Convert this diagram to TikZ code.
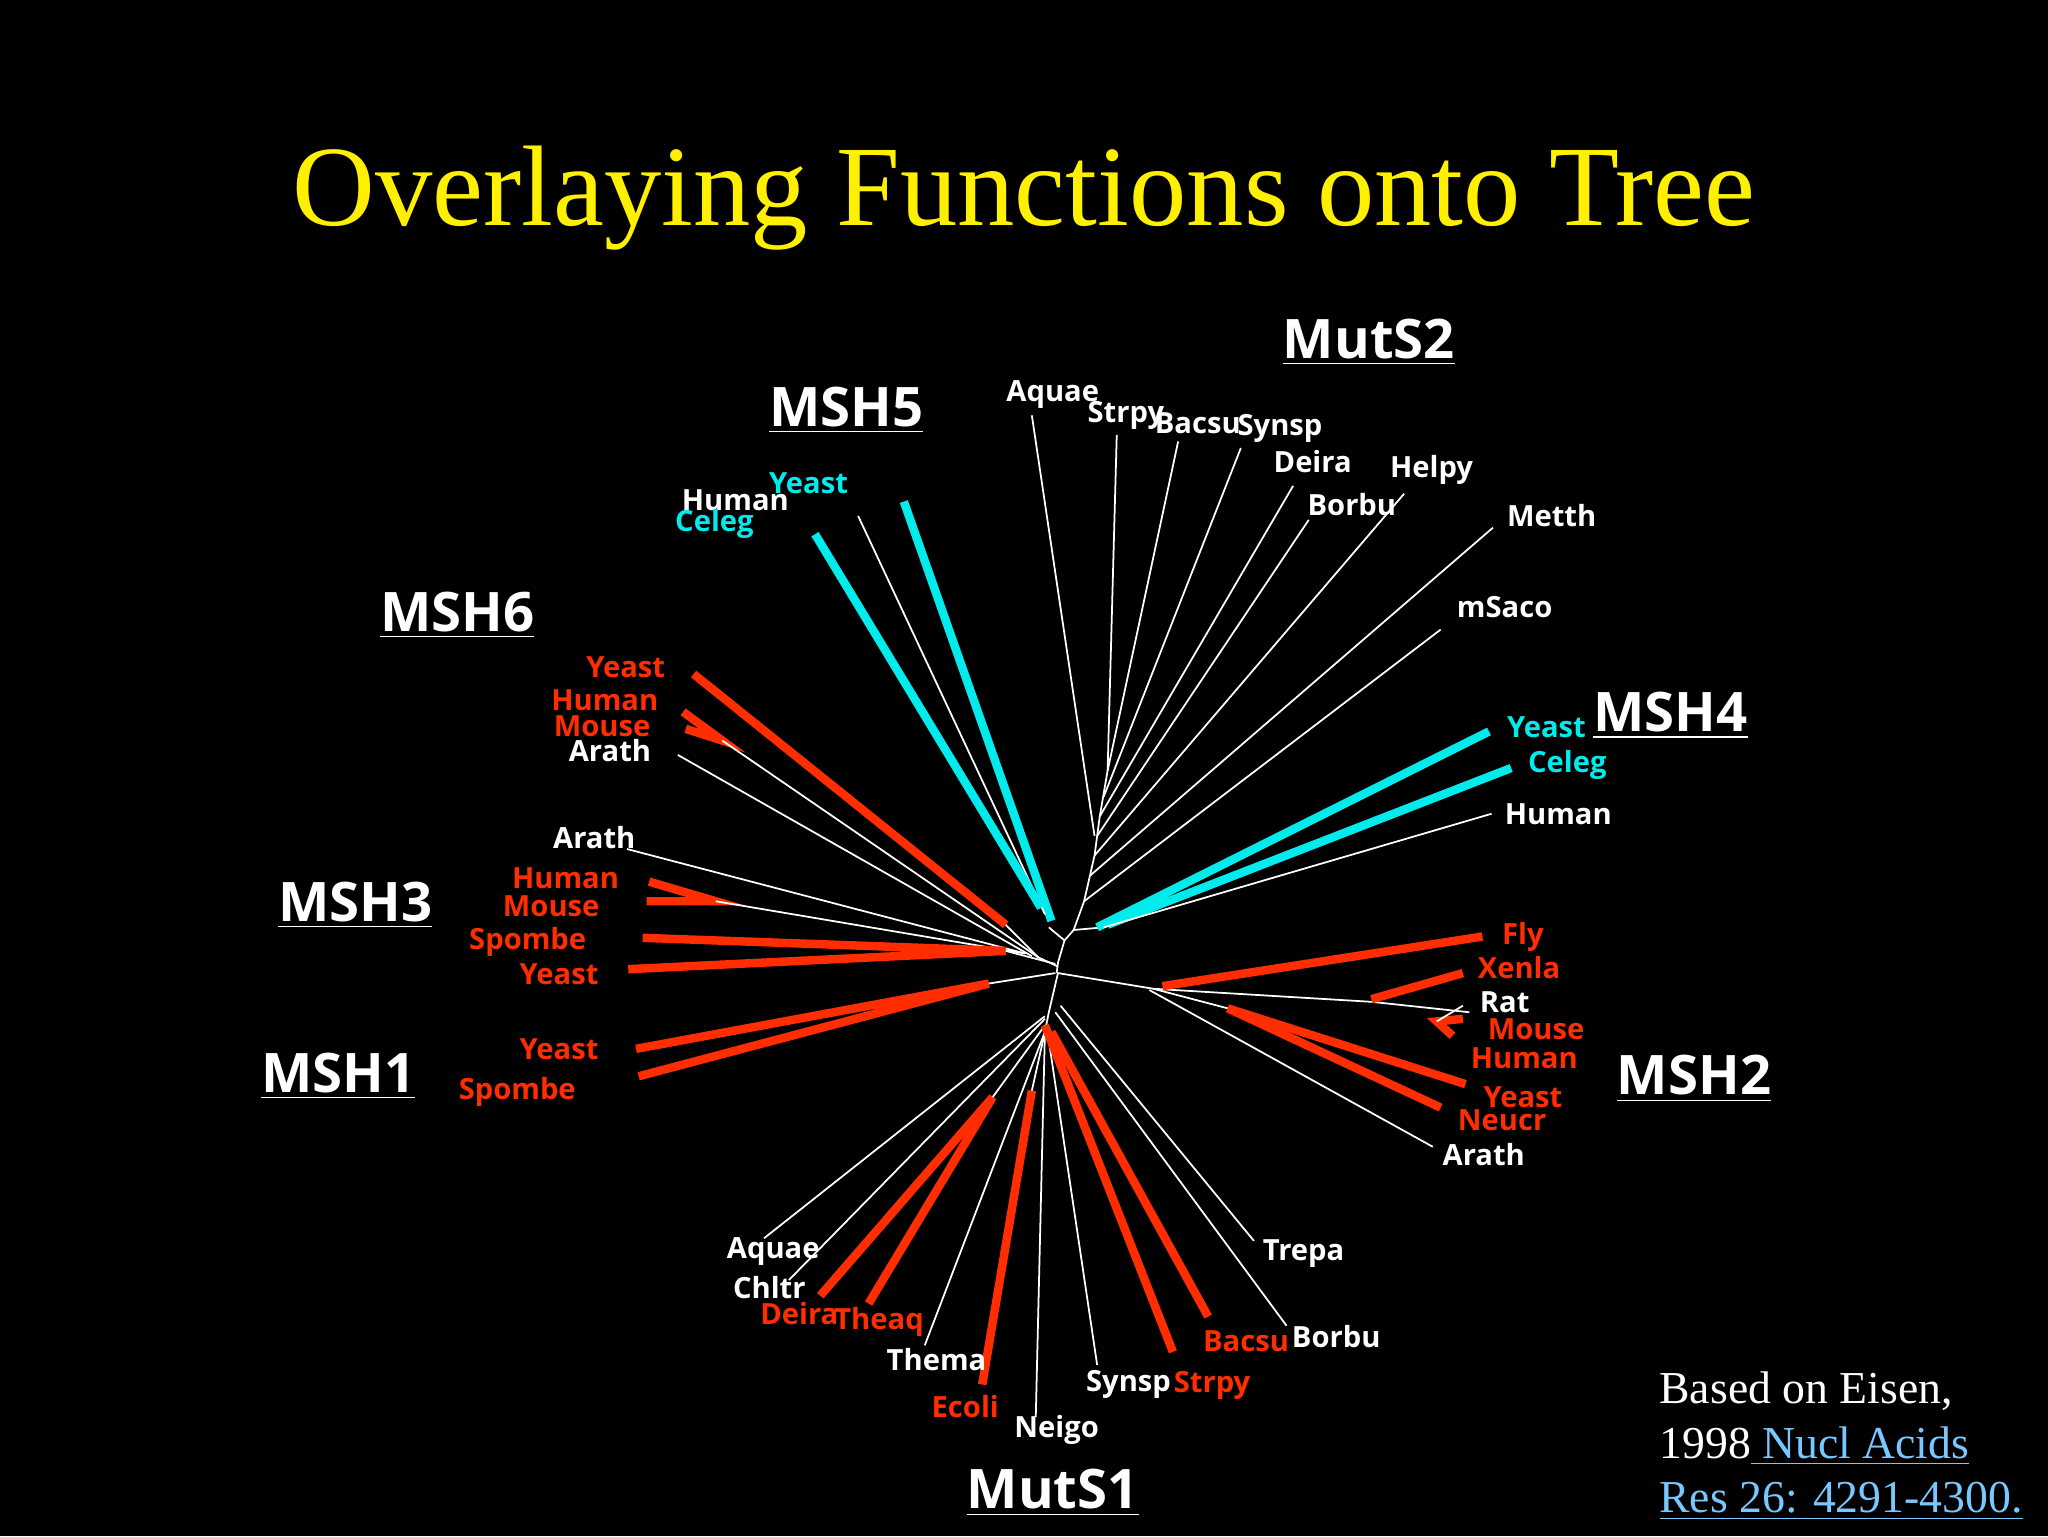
\documentclass[tikz,border=0pt]{standalone}
\usepackage{fontspec}
\setmainfont{Liberation Serif}
\newfontfamily\lblfont{Open Sans}
\definecolor{ttl}{RGB}{255,240,0}
\definecolor{fred}{RGB}{255,45,0}
\definecolor{fcyan}{RGB}{0,235,235}
\definecolor{lnk}{RGB}{120,200,255}
\begin{document}
\begin{tikzpicture}[x=0.1306mm, y=-0.1306mm,
  br/.style={white, line width=0.5pt},
  rd/.style={fred, line width=2.4pt},
  cy/.style={fcyan, line width=2.4pt},
  lw/.style={text=white, font=\lblfont\bfseries\fontsize{8.3}{9}\selectfont, inner sep=0pt},
  lr/.style={lw, text=fred},
  lc/.style={lw, text=fcyan},
  grp/.style={text=white, font=\lblfont\bfseries\fontsize{15.5}{17}\selectfont, inner sep=1pt}]
\fill[black] (0,0) rectangle (1568,1176);
\useasboundingbox (0,0) rectangle (1568,1176);

% title
\node[text=ttl, font=\fontsize{32.6}{36}\selectfont] (title) at (784,152) {Overlaying Functions onto Tree};

% backbone
\draw[br] (809,745) -- (810,737) -- (815,720) -- (822,712) -- (830,690) -- (838,655) -- (842,625) -- (848,590);
\draw[br] (810,745) -- (803,775) -- (800,790);
\draw[br] (815,720) -- (803,710);
\draw[br] (822,712) -- (845,710);

% MutS2
\draw[br] (790,318) -- (838,640);
\draw[br] (855,333) -- (848,590);
\draw[br] (902,338) -- (848,590);
\draw[br] (950,343) -- (845,610);
\draw[br] (990,372) -- (842,625);
\draw[br] (1002,398) -- (840,640);
\draw[br] (1075,378) -- (838,655);
\draw[br] (1143,404) -- (835,670);
\draw[br] (1103,482) -- (830,690);

% MSH5
\draw[cy] (692,384) -- (805,705);
\draw[br] (657,395) -- (800,700);
\draw[cy] (624,409) -- (797,695);

% MSH4
\draw[cy] (1140,560) -- (840,710);
\draw[cy] (1157,588) -- (848,708);
\draw[br] (1142,623) -- (845,710);

% MSH6
\draw[br] (810,740) -- (795,733) -- (770,708);
\draw[rd] (531,516) -- (770,708);
\draw[rd] (523,545) -- (553,567) -- (525,558);
\draw[br] (553,567) -- (795,733);
\draw[br] (519,578) -- (790,732);

% MSH3
\draw[br] (480,650) -- (785,730);
\draw[rd] (497,675) -- (548,690) -- (495,690);
\draw[br] (548,690) -- (785,730);
\draw[rd] (492,718) -- (770,728) -- (481,742);
\draw[br] (770,728) -- (808,738);

% MSH1
\draw[rd] (487,803) -- (757,753) -- (489,824);
\draw[br] (757,753) -- (808,745);

% MSH2
\draw[br] (810,745) -- (883,757) -- (1050,767) -- (1125,775);
\draw[rd] (890,755) -- (1135,717);
\draw[rd] (1050,765) -- (1120,745);
\draw[rd] (1120,780) -- (1100,782) -- (1112,793);
\draw[br] (1100,782) -- (1120,770);
\draw[br] (883,757) -- (940,772);
\draw[rd] (940,772) -- (1122,830);
\draw[rd] (940,772) -- (1103,848);
\draw[br] (880,758) -- (1097,878);

% MutS1
\draw[br] (585,948) -- (800,778);
\draw[br] (604,980) -- (800,780);
\draw[rd] (628,992) -- (760,840) -- (665,998);
\draw[br] (760,840) -- (800,785);
\draw[br] (708,1030) -- (800,790);
\draw[rd] (752,1060) -- (790,835);
\draw[br] (790,835) -- (800,790);
\draw[br] (793,1085) -- (800,790);
\draw[br] (840,1045) -- (802,790);
\draw[rd] (898,1035) -- (800,785);
\draw[rd] (925,1008) -- (805,790);
\draw[br] (985,1015) -- (808,775);
\draw[br] (960,950) -- (812,770);

% group headings
\node[grp] (muts2) at (1048,262) {\underline{MutS2}};
\node[grp] (msh5) at (648,314) {\underline{MSH5}};
\node[grp] (msh6) at (350,471) {\underline{MSH6}};
\node[grp] (msh4) at (1279,548) {\underline{MSH4}};
\node[grp] (msh3) at (272,693) {\underline{MSH3}};
\node[grp] (msh1) at (259,824) {\underline{MSH1}};
\node[grp] (msh2) at (1297,826) {\underline{MSH2}};
\node[grp] (muts1) at (806,1143) {\underline{MutS1}};

% MutS2 labels
\node[lw] (m2aquae) at (806,302) {Aquae};
\node[lw] (m2strpy) at (862,318) {Strpy};
\node[lw] (m2bacsu) at (917,324) {Bacsu};
\node[lw] (m2synsp) at (980,328) {Synsp};
\node[lw] (m2deira) at (1005,353) {Deira};
\node[lw] (m2borbu) at (1035,386) {Borbu};
\node[lw] (m2helpy) at (1096,360) {Helpy};
\node[lw] (m2metth) at (1188,395) {Metth};
\node[lw] (m2msaco) at (1152,465) {mSaco};
% MSH5 labels
\node[lc] (m5yeast) at (619,370) {Yeast};
\node[lw] (m5human) at (563,383) {Human};
\node[lc] (m5celeg) at (547,401) {Celeg};
% MSH6 labels
\node[lr] (m6yeast) at (479,511) {Yeast};
\node[lr] (m6human) at (463,536) {Human};
\node[lr] (m6mouse) at (461,556) {Mouse};
\node[lw] (m6arath) at (467,575) {Arath};
% MSH4 labels
\node[lc] (m4yeast) at (1184,557) {Yeast};
\node[lc] (m4celeg) at (1200,586) {Celeg};
\node[lw] (m4human) at (1193,623) {Human};
% MSH3 labels
\node[lw] (m3arath) at (455,641) {Arath};
\node[lr] (m3human) at (433,672) {Human};
\node[lr] (m3mouse) at (422,694) {Mouse};
\node[lr] (m3spombe) at (404,721) {Spombe};
\node[lr] (m3yeast) at (428,746) {Yeast};
% MSH1 labels
\node[lr] (m1yeast) at (428,803) {Yeast};
\node[lr] (m1spombe) at (396,836) {Spombe};
% MSH2 labels
\node[lr] (m2fly) at (1166,717) {Fly};
\node[lr] (m2xenla) at (1163,741) {Xenla};
\node[lw] (m2rat) at (1152,767) {Rat};
\node[lr] (m2mouse) at (1176,788) {Mouse};
\node[lr] (m2human) at (1167,810) {Human};
\node[lr] (m2yeast) at (1166,840) {Yeast};
\node[lr] (m2neucr) at (1150,858) {Neucr};
\node[lw] (m2arath) at (1136,884) {Arath};
% MutS1 labels
\node[lw] (m1aquae) at (592,958) {Aquae};
\node[lw] (m1chltr) at (589,986) {Chltr};
\node[lr] (m1deira) at (612,1006) {Deira};
\node[lr] (m1theaq) at (673,1012) {Theaq};
\node[lw] (m1thema) at (717,1041) {Thema};
\node[lr] (m1ecoli) at (739,1077) {Ecoli};
\node[lw] (m1neigo) at (809,1095) {Neigo};
\node[lw] (m1synsp) at (864,1060) {Synsp};
\node[lr] (m1strpy) at (928,1061) {Strpy};
\node[lr] (m1bacsu) at (954,1027) {Bacsu};
\node[lw] (m1borbu) at (1023,1023) {Borbu};
\node[lw] (m1trepa) at (998,960) {Trepa};

% citation
\node[text=white, font=\fontsize{13}{15.5}\selectfont, align=left, anchor=north west, inner sep=0pt] (cite) at (1270,1050)
  {Based on Eisen,\\ 1998\textcolor{lnk}{\underline{ Nucl Acids}}\\ \textcolor{lnk}{\underline{Res 26: 4291-4300.}}};
\end{tikzpicture}
\end{document}
